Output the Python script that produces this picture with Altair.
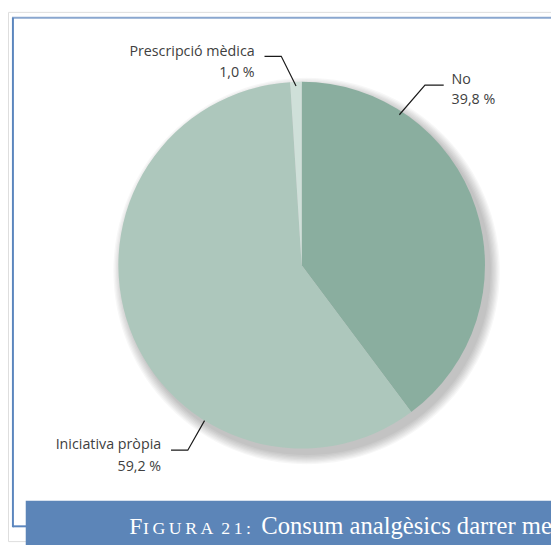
import altair as alt
import pandas as pd
import numpy as np

# ---- data ----
categories = ["No", "Iniciativa pròpia", "Prescripció mèdica"]
values = [39.8, 59.2, 1.0]
value_labels = ["39,8 %", "59,2 %", "1,0 %"]
colors = ["#8aae9f", "#adc7bc", "#cfe0d9"]

title_cap = "F"
title_smallcaps = "I\u2009G\u2009U\u2009R\u2009A\u2009 2\u20091\u2009:"
title_rest = "Consum analgèsics darrer mes"

# ---- layout (svg pixel space) ----
W, H = 551, 537
CX, CY, R = 298, 257, 186

df = pd.DataFrame({"cat": categories, "value": values, "order": [0, 1, 2]})

# slice angles from data
tot = sum(values)
cum = np.cumsum([0] + values)
mid_deg = [(cum[i] + cum[i + 1]) / 2 / tot * 360 for i in range(len(values))]

# annotation layout: anchor angle, anchor radius, elbow offset, horizontal run, text side
ann = {
    "No": dict(angle=33.0, r=182, edx=26, edy=-30, run=19, side="left", tdy=(-5, 15)),
    "Iniciativa pròpia": dict(angle=212.0, r=186, edx=-17, edy=30, run=-17, side="right", tdy=(-5, 17)),
    "Prescripció mèdica": dict(angle=mid_deg[2], r=182, edx=-15, edy=-30, run=-17, side="right", tdy=(-4, 17)),
}

line_rows, text_rows = [], []
for i, c in enumerate(categories):
    a = ann[c]
    th = np.radians(a["angle"])
    x0 = CX + a["r"] * np.sin(th)
    y0 = CY - a["r"] * np.cos(th)
    x1, y1 = x0 + a["edx"], y0 + a["edy"]
    x2, y2 = x1 + a["run"], y1
    for k, (x, y) in enumerate([(x0, y0), (x1, y1), (x2, y2)]):
        line_rows.append({"cat": c, "k": k, "x": x, "y": y})
    tx = x2 + (8 if a["side"] == "left" else -10)
    text_rows.append({"cat": c, "t": c, "x": tx, "y": y2 + a["tdy"][0], "side": a["side"]})
    text_rows.append({"cat": c, "t": value_labels[i], "x": tx, "y": y2 + a["tdy"][1], "side": a["side"]})

lines_df = pd.DataFrame(line_rows)
texts_df = pd.DataFrame(text_rows)
dummy = pd.DataFrame({"d": [0]})

# shadow
shadow_layers = []
for k in range(8):
    shadow_layers.append(
        alt.Chart(dummy).mark_arc(outerRadius=R + 1 + k * 1.3, color="#000000", opacity=0.03, xOffset=5, yOffset=6)
        .encode(theta=alt.value(2 * np.pi), x=alt.value(CX), y=alt.value(CY))
    )

pie = alt.Chart(df).mark_arc(outerRadius=R).encode(
    theta=alt.Theta("value:Q", stack=True),
    color=alt.Color("cat:N", scale=alt.Scale(domain=categories, range=colors), legend=None),
    order=alt.Order("order:Q"),
    x=alt.value(CX),
    y=alt.value(CY),
)

leaders = alt.Chart(lines_df).mark_line(color="#1a1a1a", strokeWidth=1.2).encode(
    x=alt.X("x:Q", scale=None),
    y=alt.Y("y:Q", scale=None),
    detail="cat:N",
    order="k:Q",
)

txt_common = dict(font="Open Sans", fontSize=14.5, color="#404040", baseline="middle")
labels_left = alt.Chart(texts_df[texts_df.side == "left"]).mark_text(align="left", **txt_common).encode(
    x=alt.X("x:Q", scale=None), y=alt.Y("y:Q", scale=None), text="t:N"
)
labels_right = alt.Chart(texts_df[texts_df.side == "right"]).mark_text(align="right", **txt_common).encode(
    x=alt.X("x:Q", scale=None), y=alt.Y("y:Q", scale=None), text="t:N"
)

frame_top = alt.Chart(dummy).mark_rule(color="#8aa7cf", strokeWidth=2).encode(
    x=alt.value(4), x2=alt.value(W), y=alt.value(6)
)
frame_left = alt.Chart(dummy).mark_rule(color="#5b86be", strokeWidth=2).encode(
    x=alt.value(5), y=alt.value(6), y2=alt.value(523)
)
frame_bottom = alt.Chart(dummy).mark_rule(color="#5b86be", strokeWidth=2).encode(
    x=alt.value(5), x2=alt.value(20), y=alt.value(522)
)
banner = alt.Chart(dummy).mark_rect(color="#5c85b8").encode(
    x=alt.value(18), x2=alt.value(W + 10), y=alt.value(496), y2=alt.value(H + 10)
)
t1 = alt.Chart(dummy).mark_text(text=title_cap, font="Liberation Serif", fontSize=24, color="white",
                                align="left", baseline="alphabetic").encode(x=alt.value(123), y=alt.value(530))
t2 = alt.Chart(dummy).mark_text(text=title_smallcaps, font="Liberation Serif", fontSize=18, color="white",
                                align="left", baseline="alphabetic").encode(x=alt.value(137), y=alt.value(530))
t3 = alt.Chart(dummy).mark_text(text=title_rest, font="Liberation Serif", fontSize=25, color="white",
                                align="left", baseline="alphabetic").encode(x=alt.value(257), y=alt.value(530))

chart = alt.layer(
    *shadow_layers, pie, leaders, labels_left, labels_right,
    frame_top, frame_left, frame_bottom, banner, t1, t2, t3
).properties(
    width=W, height=H, autosize=alt.AutoSizeParams(type="none"), padding=0
).configure_view(stroke=None).configure(background="white")

chart.save("out.html", embed_options={"renderer": "svg", "actions": False})
